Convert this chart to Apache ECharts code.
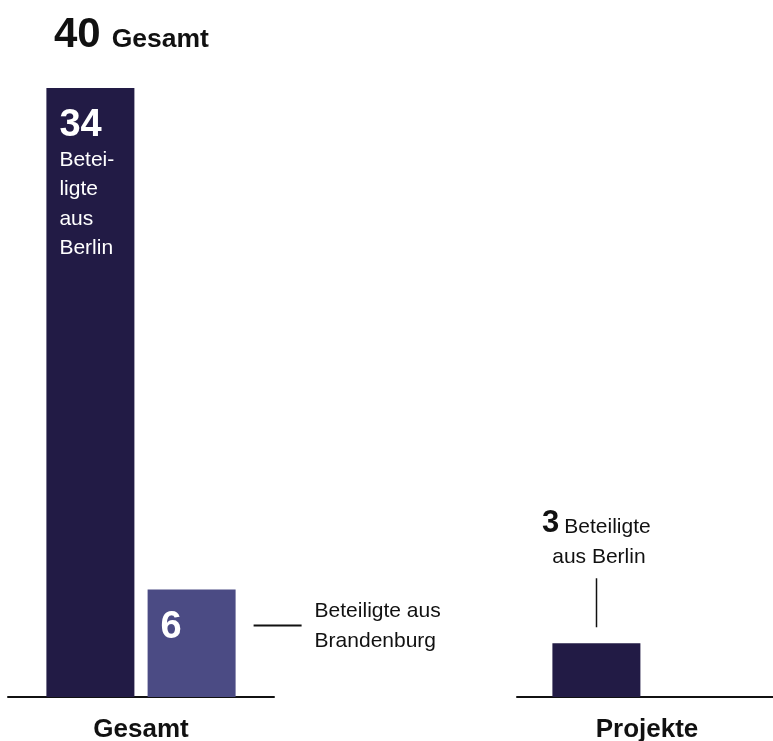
<!DOCTYPE html>
<html>
<head>
<meta charset="utf-8">
<script src="https://cdn.jsdelivr.net/npm/echarts@6/dist/echarts.min.js"></script>
<style>
html,body{margin:0;padding:0;background:#fff;}
#main{width:773px;height:741px;}
</style>
</head>
<body>
<div id="main"></div>
<script>
// ---- data ----
const categories = ['Gesamt', 'Projekte'];
const berlin = [34, 3];
const brandenburg = [6, 0];
const totalWord = 'Gesamt';
const berlinInsideText = ['Betei-', 'ligte', 'aus', 'Berlin'];
const brandenburgNote = ['Beteiligte aus', 'Brandenburg'];
const projektNote = ['Beteiligte', 'aus Berlin'];

const FONT = '"Liberation Sans", Arial, Helvetica, sans-serif';
const C_BERLIN = '#221b45';
const C_BRB = '#4b4b84';
const C_TEXT = '#111111';

const total = berlin[0] + brandenburg[0];
const yMax = Math.max(...berlin, ...brandenburg);

const chart = echarts.init(document.getElementById('main'), null, {renderer: 'canvas'});

function xAxis(i) {
  return {
    type: 'category', gridIndex: i, data: [categories[i]],
    axisLine: {show: true, lineStyle: {color: C_TEXT, width: 2}},
    axisTick: {show: false},
    axisLabel: {fontFamily: FONT, fontSize: 26, fontWeight: 'bold', color: C_TEXT, margin: 20}
  };
}
function yAxis(i) {
  return {type: 'value', gridIndex: i, min: 0, max: yMax, show: false, splitLine: {show: false}};
}

const option = {
  animation: false,
  backgroundColor: '#ffffff',
  title: {
    text: '{n|' + total + '}{g|' + totalWord + '}',
    left: 54, top: 10, padding: 0,
    textStyle: {
      fontFamily: FONT,
      rich: {
        n: {fontFamily: FONT, fontSize: 42, fontWeight: 'bold', color: C_TEXT, lineHeight: 46, verticalAlign: 'bottom'},
        g: {fontFamily: FONT, fontSize: 26.5, fontWeight: 'bold', color: C_TEXT, verticalAlign: 'bottom', padding: [0, 0, 3, 11]}
      }
    }
  },
  grid: [
    {left: 8, width: 266, top: 88, bottom: 44, containLabel: false, outerBoundsMode: 'none'},
    {left: 517, width: 260, top: 88, bottom: 44, containLabel: false, outerBoundsMode: 'none'}
  ],
  xAxis: [xAxis(0), xAxis(1)],
  yAxis: [yAxis(0), yAxis(1)],
  series: [
    {
      name: 'Berlin', type: 'bar', xAxisIndex: 0, yAxisIndex: 0,
      data: [berlin[0]], barWidth: 88, barGap: '15%',
      itemStyle: {color: C_BERLIN},
      label: {
        show: true, position: [13, 18], align: 'left', verticalAlign: 'top',
        formatter: function (p) {
          return '{n|' + p.value + '}\n' + berlinInsideText.map(t => '{t|' + t + '}').join('\n');
        },
        rich: {
          n: {fontFamily: FONT, fontSize: 38, fontWeight: 'bold', color: '#fff', lineHeight: 39},
          t: {fontFamily: FONT, fontSize: 21, color: '#fff', lineHeight: 29.5}
        }
      }
    },
    {
      name: 'Brandenburg', type: 'bar', xAxisIndex: 0, yAxisIndex: 0,
      data: [brandenburg[0]], barWidth: 88, barGap: '15%',
      itemStyle: {color: C_BRB},
      label: {
        show: true, position: [13, 18], align: 'left', verticalAlign: 'top',
        formatter: '{n|{c}}',
        rich: {
          n: {fontFamily: FONT, fontSize: 38, fontWeight: 'bold', color: '#fff', lineHeight: 39}
        }
      }
    },
    {
      name: 'Berlin', type: 'bar', xAxisIndex: 1, yAxisIndex: 1,
      data: [berlin[1]], barWidth: 88, barGap: '15%',
      itemStyle: {color: C_BERLIN},
      label: {
        show: true, position: 'top', distance: 74,
        formatter: function (p) {
          return '{n|' + p.value + '}{t|' + projektNote[0] + '}\n{t|' + projektNote[1] + '}';
        },
        rich: {
          n: {fontFamily: FONT, fontSize: 31, fontWeight: 'bold', color: C_TEXT, lineHeight: 30, verticalAlign: 'bottom'},
          t: {fontFamily: FONT, fontSize: 21, color: C_TEXT, lineHeight: 30, verticalAlign: 'bottom', padding: [0, 0, 2, 5]}
        }
      }
    },
    {
      name: 'Brandenburg', type: 'bar', xAxisIndex: 1, yAxisIndex: 1,
      data: [brandenburg[1]], barWidth: 88, barGap: '15%',
      itemStyle: {color: C_BRB},
      label: {show: false}
    }
  ]
};
chart.setOption(option);

// ---- annotation connectors, positioned from the library's bar layouts ----
function barRect(seriesIndex) {
  try {
    const l = chart.getModel().getSeriesByIndex(seriesIndex).getData().getItemLayout(0);
    const top = Math.min(l.y, l.y + l.height);
    return {x: l.x, w: l.width, top: top};
  } catch (e) {
    return null;
  }
}
const rB = barRect(1);
const rP = barRect(2);
const graphics = [];
if (rB) {
  const right = rB.x + rB.w;
  const ly = rB.top + 36;
  graphics.push({type: 'line', shape: {x1: right + 18, y1: ly, x2: right + 66, y2: ly},
    style: {stroke: C_TEXT, lineWidth: 2}});
  graphics.push({type: 'text', x: right + 79, y: ly + 1,
    style: {text: brandenburgNote.join('\n'), fontFamily: FONT, fontSize: 21, lineHeight: 30,
      fill: C_TEXT, textAlign: 'left', textVerticalAlign: 'middle'}});
}
if (rP) {
  const cx = Math.round(rP.x + rP.w / 2) + 0.5;
  graphics.push({type: 'line', shape: {x1: cx, y1: rP.top - 16, x2: cx, y2: rP.top - 65},
    style: {stroke: C_TEXT, lineWidth: 1.5}});
}
chart.setOption({graphic: graphics});
</script>
</body>
</html>
